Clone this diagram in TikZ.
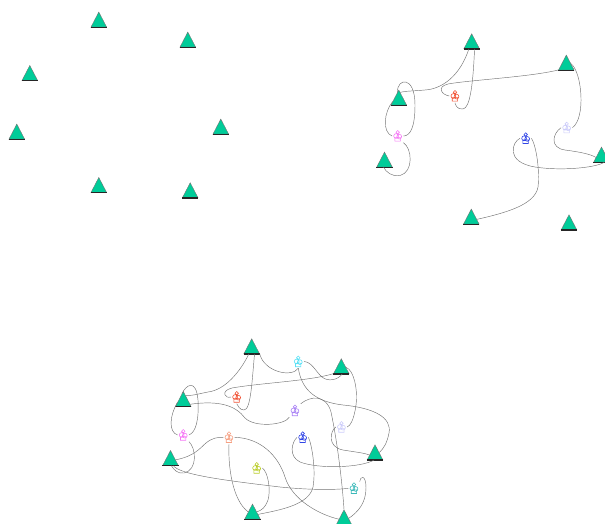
\documentclass[tikz,border=0pt]{standalone}
\usetikzlibrary{shapes.geometric}

\definecolor{siteteal}{RGB}{0,204,153}
\definecolor{gRed}{RGB}{240,80,50}
\definecolor{gPink}{RGB}{245,120,245}
\definecolor{gBlue}{RGB}{50,70,230}
\definecolor{gPale}{RGB}{205,205,250}
\definecolor{gCyan}{RGB}{90,225,245}
\definecolor{gPurple}{RGB}{170,130,245}
\definecolor{gPeach}{RGB}{245,160,130}
\definecolor{gLime}{RGB}{185,205,40}
\definecolor{gTeal}{RGB}{60,185,185}

\begin{document}
\begin{tikzpicture}[
  x=1pt, y=-1pt,
  % ---- Style definitions ----
  site/.style={
    isosceles triangle, isosceles triangle stretches, shape border rotate=90,
    minimum width=15.6pt, minimum height=15pt, inner sep=0pt,
    fill=siteteal, draw=black!55, line width=0.4pt, anchor=south
  },
  sitebase/.style={
    draw=black!85, line width=1.1pt
  },
  glyph/.style={
    minimum width=11pt, minimum height=13pt, inner sep=0pt,
    path picture={
      \draw[#1, line width=0.6pt]
        ([shift={(0pt,3.8pt)}]path picture bounding box.center) circle[radius=1.7pt]
        ([shift={(-1.6pt,0pt)}]path picture bounding box.center) circle[radius=2.4pt]
        ([shift={(1.5pt,-0.6pt)}]path picture bounding box.center) circle[radius=2.4pt]
        ([shift={(-2.8pt,-1.6pt)}]path picture bounding box.center)
          rectangle ([shift={(2.6pt,-5.2pt)}]path picture bounding box.center);
    }
  },
  link/.style={
    draw=black!55, line width=0.45pt
  },
]

\useasboundingbox (0,0) rectangle (605,524);

% ---- Sites, first group (no links) ----
\node[site] (a1) at (98.8,27.3) {};
\node[site] (a2) at (187.8,47.3) {};
\node[site] (a3) at (29.8,80.7) {};
\node[site] (a4) at (16.8,139.3) {};
\node[site] (a5) at (220.8,134.3) {};
\node[site] (a6) at (98.8,192.7) {};
\node[site] (a7) at (190.2,198) {};

% ---- Sites, second group ----
\node[site] (b1) at (471.7,49) {};
\node[site] (b2) at (566.3,70.3) {};
\node[site] (b3) at (398.8,105.3) {};
\node[site] (b4) at (384.5,167.3) {};
\node[site] (b5) at (601.5,162.3) {};
\node[site] (b6) at (471.3,224.3) {};
\node[site] (b7) at (569,230) {};

\node[glyph=gRed] (bg1) at (455,96) {};
\node[glyph=gPink] (bg2) at (397.7,136) {};
\node[glyph=gBlue] (bg3) at (525.7,138.3) {};
\node[glyph=gPale] (bg4) at (566.7,127.7) {};

% ---- Sites, third group ----
\node[site] (c1) at (251.7,354) {};
\node[site] (c2) at (341.3,374) {};
\node[site] (c3) at (183.3,406.7) {};
\node[site] (c4) at (170.5,465.7) {};
\node[site] (c5) at (375,460) {};
\node[site] (c6) at (252.5,519.3) {};
\node[site] (c7) at (344,525) {};

\node[glyph=gCyan] (cg1) at (298.3,361.5) {};
\node[glyph=gRed] (cg2) at (236.7,397) {};
\node[glyph=gPurple] (cg3) at (295,410.5) {};
\node[glyph=gPale] (cg4) at (341.5,427) {};
\node[glyph=gPink] (cg5) at (183.3,435) {};
\node[glyph=gPeach] (cg6) at (229,437.3) {};
\node[glyph=gBlue] (cg7) at (302.7,437.3) {};
\node[glyph=gLime] (cg8) at (256.7,468) {};
\node[glyph=gTeal] (cg9) at (354,488.3) {};

% ---- Dark base of every site ----
\foreach \s in {a1,a2,a3,a4,a5,a6,a7,b1,b2,b3,b4,b5,b6,b7,c1,c2,c3,c4,c5,c6,c7}
  \draw[sitebase] (\s.left corner) -- (\s.right corner);

% ---- Links, second group ----
\draw[link] (b1.-120) .. controls (460,76) and (442,89) .. (425,90)
  .. controls (414,91) and (405,91) .. (b3.80);
\draw[link] (b2.-150) .. controls (530,77) and (470,80) .. (448,84)
  .. controls (436,87) and (442,95) .. (bg1.west);
\draw[link] (b1.-60) .. controls (473,85) and (470,108) .. (463,109)
  .. controls (457,110) and (455,104) .. (bg1.south);
\draw[link] (b3.100) .. controls (397,78) and (415,75) .. (415,105)
  .. controls (415,128) and (410,136) .. (bg2.east);
\draw[link] (b3.190) .. controls (384,112) and (382,132) .. (bg2.west);
\draw[link] (bg2.south east) .. controls (412,148) and (414,172) .. (400,175.5)
  .. controls (392,177) and (386,172) .. (b4.-100);
\draw[link] (b2.20) .. controls (582,72) and (586,118) .. (bg4.east);
\draw[link] (bg4.west) .. controls (552,134) and (550,148) .. (565,150)
  .. controls (580,152) and (590,154) .. (b5.west);
\draw[link] (bg3.west) .. controls (512,142) and (505,162) .. (535,167)
  .. controls (560,171) and (595,168) .. (b5.-60);
\draw[link] (bg3.east) .. controls (536,145) and (540,170) .. (538,187)
  .. controls (535,205) and (505,213) .. (b6.east);

% ---- Links, third group ----
\draw[link] (c1.-120) .. controls (240,372) and (225,390) .. (208,392)
  .. controls (198,394) and (191,396) .. (c3.70);
\draw[link] (c2.-150) .. controls (310,381) and (260,383) .. (232,388)
  .. controls (220,391) and (225,399) .. (cg2.west);
\draw[link] (c3.-20) .. controls (220,400) and (236,406) .. (245,418)
  .. controls (255,428) and (285,425) .. (cg3.south west);
\draw[link] (c1.-60) .. controls (252,380) and (251,410) .. (244,410)
  .. controls (239,410) and (238,405) .. (cg2.south);
\draw[link] (c1.-30) .. controls (264,372) and (292,378) .. (cg1.south);
\draw[link] (cg1.east) .. controls (312,362) and (316,372) .. (322,377)
  .. controls (328,382) and (338,380) .. (c2.-80);
\draw[link] (cg1.south) .. controls (302,392) and (318,402) .. (343,405)
  .. controls (375,408) and (392,418) .. (389,433)
  .. controls (387,443) and (384,448) .. (c5.30);
\draw[link] (cg3.north east) .. controls (310,396) and (326,394) .. (331,412)
  .. controls (337,440) and (342,480) .. (c7.north);
\draw[link] (c2.20) .. controls (354,370) and (358,390) .. (356,405)
  .. controls (354,420) and (350,426) .. (cg4.east);
\draw[link] (cg4.west) .. controls (330,431) and (327,447) .. (343,450)
  .. controls (355,452) and (365,453) .. (c5.west);
\draw[link] (cg7.west) .. controls (292,442) and (288,456) .. (300,462)
  .. controls (318,469) and (360,468) .. (c5.-100);
\draw[link] (cg7.east) .. controls (312,445) and (316,470) .. (313,487)
  .. controls (309,505) and (280,510) .. (c6.east);
\draw[link] (c3.100) .. controls (186,385) and (196,378) .. (198,400)
  .. controls (199,420) and (196,432) .. (cg5.east);
\draw[link] (c3.190) .. controls (170,415) and (168,432) .. (cg5.west);
\draw[link] (cg5.south east) .. controls (196,448) and (198,470) .. (184,473)
  .. controls (178,474) and (174,470) .. (c4.-80);
\draw[link] (c4.10) .. controls (195,456) and (200,448) .. (206,443)
  .. controls (212,438) and (218,437) .. (cg6.west);
\draw[link] (cg6.south) .. controls (228,465) and (232,500) .. (c6.150);
\draw[link] (cg6.east) .. controls (260,438) and (278,455) .. (285,477)
  .. controls (292,500) and (320,515) .. (c7.170);
\draw[link] (c4.-60) .. controls (180,475) and (230,481) .. (280,487)
  .. controls (310,490) and (335,490) .. (cg9.west);
\draw[link] (cg9.north east) .. controls (360,476) and (366,474) .. (366,488)
  .. controls (366,503) and (358,512) .. (c7.20);
\draw[link] (cg8.east) .. controls (268,472) and (271,490) .. (268,500)
  .. controls (265,508) and (262,510) .. (c6.30);

\end{tikzpicture}
\end{document}
